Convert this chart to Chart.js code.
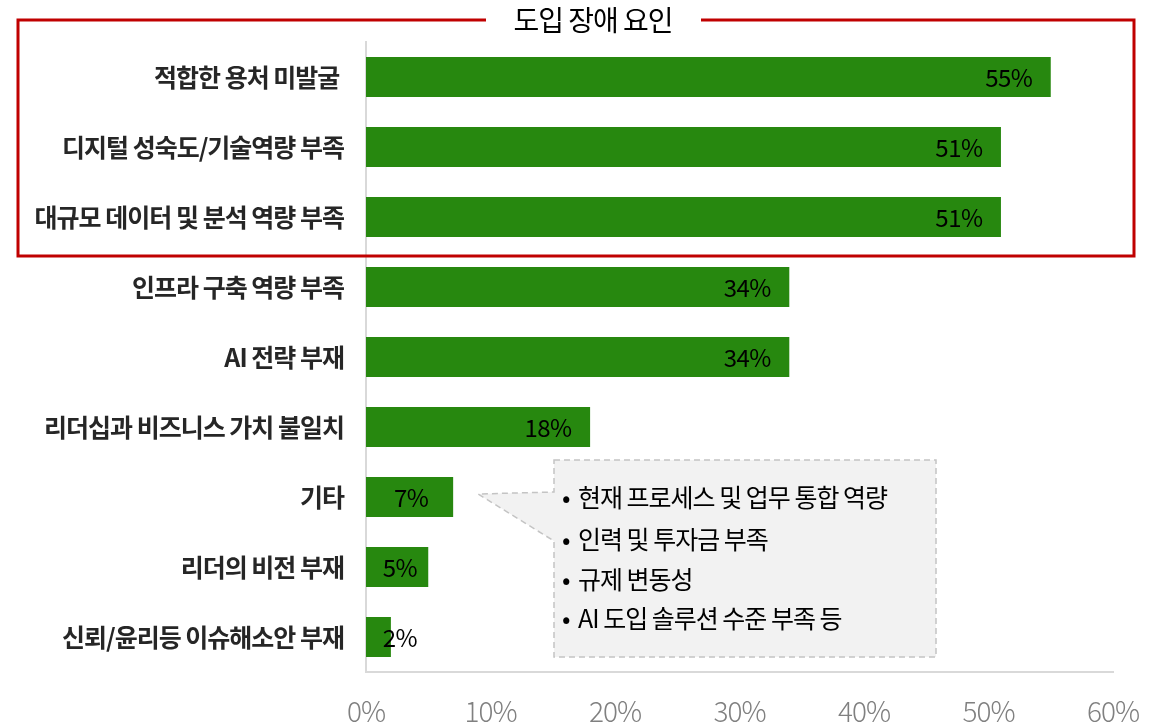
<!DOCTYPE html>
<html><head><meta charset="utf-8">
<script src="https://cdn.jsdelivr.net/npm/chart.js@4.4.1/dist/chart.umd.min.js"></script>
<style>html,body{margin:0;padding:0;background:#fff;}#wrap{width:1175px;height:728px;position:relative;}</style>
</head><body><div id="wrap"><canvas id="c" width="1175" height="728"></canvas></div>
<script>
const categories = ['적합한 용처 미발굴 ','디지털 성숙도/기술역량 부족','대규모 데이터 및 분석 역량 부족','인프라 구축 역량 부족','AI 전략 부재','리더십과 비즈니스 가치 불일치','기타','리더의 비전 부재','신뢰/윤리등 이슈해소안 부재'];
const values = [55,51,51,34,34,18,7,5,2];
const tickLabels = ['0%','10%','20%','30%','40%','50%','60%'];
const boxTitle = '도입 장애 요인';
const calloutLines = ['현재 프로세스 및 업무 통합 역량','인력 및 투자금 부족','규제 변동성','AI 도입 솔루션 수준 부족 등'];
const FONT = "'Noto Sans CJK KR','Noto Sans',sans-serif";

const spacing = {
  id:'spacing',
  beforeDraw(chart){ chart.ctx.letterSpacing = '-1px'; }
};

const overlay = {
  id:'overlay',
  afterDatasetsDraw(chart){
    const ctx = chart.ctx, xs = chart.scales.x;
    const meta = chart.getDatasetMeta(0);
    ctx.save();
    // data labels
    ctx.letterSpacing = '-0.5px';
    ctx.font = "24px " + FONT;
    ctx.fillStyle = '#000';
    ctx.textAlign = 'center';
    ctx.textBaseline = 'middle';
    meta.data.forEach((bar,i)=>{
      const x0 = xs.getPixelForValue(0);
      let cx = Math.max(bar.x - 42, x0 + 34);
      ctx.fillText(values[i] + '%', cx, bar.y + 1);
    });
    // red box
    ctx.strokeStyle = '#c00000';
    ctx.lineWidth = 3;
    ctx.beginPath();
    ctx.moveTo(486,20); ctx.lineTo(18,20); ctx.lineTo(18,256); ctx.lineTo(1134,256); ctx.lineTo(1134,20); ctx.lineTo(701,20);
    ctx.stroke();
    ctx.letterSpacing = '-1px';
    ctx.font = "28px " + FONT;
    ctx.fillStyle = '#000';
    ctx.fillText(boxTitle, 593, 20);
    // callout
    const b7 = meta.data[6];
    const tipX = b7.x + 25, tipY = b7.y - 3;
    const L=554, T=460, R=936, B=657;
    ctx.fillStyle = '#f2f2f2';
    ctx.beginPath();
    ctx.moveTo(L,T); ctx.lineTo(R,T); ctx.lineTo(R,B); ctx.lineTo(L,B); ctx.lineTo(L,541); ctx.lineTo(tipX,tipY); ctx.lineTo(L,492); ctx.closePath();
    ctx.fill();
    ctx.strokeStyle = '#c4c4c4';
    ctx.lineWidth = 1.5;
    ctx.setLineDash([6,4]);
    ctx.stroke();
    ctx.setLineDash([]);
    ctx.font = "25px " + FONT;
    ctx.letterSpacing = '-1px';
    ctx.fillStyle = '#000';
    ctx.textAlign = 'left';
    const ly = [497,539,579,618];
    calloutLines.forEach((t,i)=>{
      ctx.fillText('•', 562, ly[i]);
      ctx.fillText(t, 578, ly[i]);
    });
    ctx.restore();
  }
};

new Chart(document.getElementById('c'), {
  type:'bar',
  data:{labels:categories, datasets:[{data:values, backgroundColor:'#27880f', borderWidth:0, barPercentage:0.8, categoryPercentage:0.714}]},
  options:{
    indexAxis:'y', responsive:false, animation:false,
    layout:{padding:{top:42,right:62,left:0,bottom:0}},
    plugins:{legend:{display:false}, tooltip:{enabled:false}},
    scales:{
      x:{min:0,max:60,
        ticks:{stepSize:10, padding:23, color:'#808080', font:{family:FONT,size:28,weight:300}, callback:(v,i)=>tickLabels[i]},
        grid:{display:false, drawTicks:false},
        border:{display:true,color:'#d9d9d9',width:2},
        afterFit(s){s.height=56;}
      },
      y:{
        ticks:{padding:22, color:'#262626', font:{family:FONT,size:25,weight:'bold'}},
        grid:{display:false, drawTicks:false},
        border:{display:true,color:'#d9d9d9',width:2},
        afterFit(s){s.width=366;}
      }
    }
  },
  plugins:[spacing, overlay]
});
</script></body></html>
